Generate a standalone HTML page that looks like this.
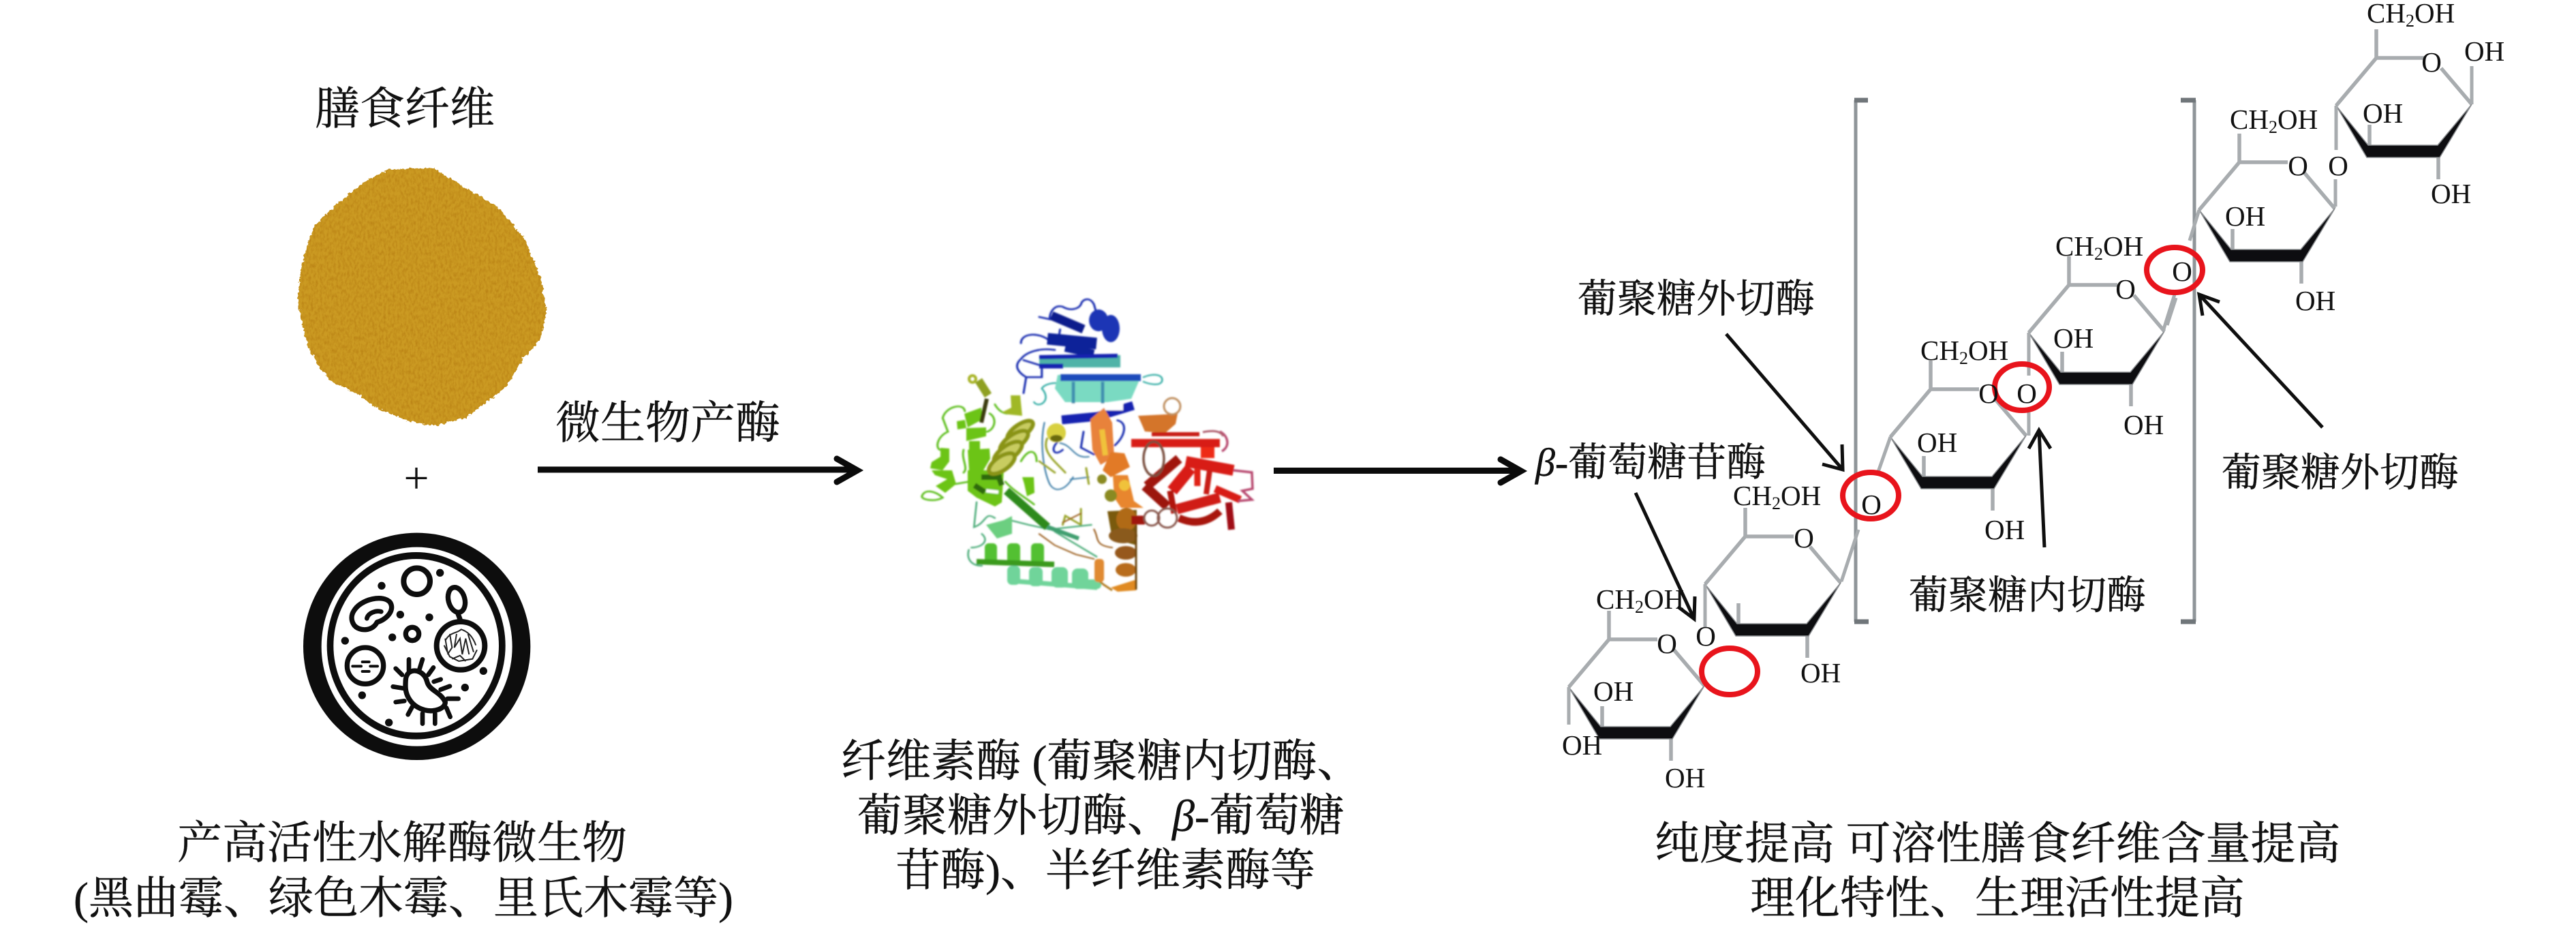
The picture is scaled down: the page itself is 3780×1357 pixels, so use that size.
<!DOCTYPE html>
<html lang="zh">
<head>
<meta charset="utf-8">
<title>膳食纤维酶解示意图</title>
<style>
html,body{margin:0;padding:0;background:#fff;width:3780px;height:1357px;overflow:hidden}
svg{display:block}
.cn{font-family:"Liberation Serif","Noto Serif CJK SC",serif;fill:#111;stroke:#111;stroke-width:.4}
.c66{font-size:66px}
.c58{font-size:58px}
.chem{font-family:"Liberation Serif",serif;font-size:41px;fill:#111}
.sub{font-size:26px}
.mid{text-anchor:middle}
</style>
</head>
<body>
<svg xmlns="http://www.w3.org/2000/svg" width="3780" height="1357" viewBox="0 0 3780 1357">
<defs>
<filter id="pw" x="-6%" y="-6%" width="112%" height="112%" color-interpolation-filters="sRGB">
  <feTurbulence type="fractalNoise" baseFrequency=".22" numOctaves="2" seed="3" result="n"/>
  <feDisplacementMap in="SourceGraphic" in2="n" scale="7" xChannelSelector="R" yChannelSelector="G" result="d"/>
  <feTurbulence type="fractalNoise" baseFrequency=".3 .16" numOctaves="3" seed="8" result="t"/>
  <feColorMatrix in="t" type="matrix" values="0 0 0 0 .70  0 0 0 0 .47  0 0 0 0 .06  1.3 0 0 0 -.5" result="tc"/>
  <feComposite in="tc" in2="d" operator="in" result="tci"/>
  <feMerge><feMergeNode in="d"/><feMergeNode in="tci"/></feMerge>
</filter>
<filter id="soft" x="-5%" y="-5%" width="110%" height="110%"><feGaussianBlur stdDeviation="1"/></filter>
<filter id="soft2" x="-5%" y="-5%" width="110%" height="110%"><feGaussianBlur stdDeviation=".8"/></filter>
<g id="ring">
  <path d="M0,0 L59,-70 L130,-70 M59,-70 L59,-112 M154,-55 L199,-2 M49,28 L49,60 M150,75 L150,108" fill="none" stroke="#a8acaf" stroke-width="5.5"/>
  <path d="M0,0 L47,58 L149,58 L199,-2 L152,76 L45,76Z" fill="#0d0d10" stroke="#8a8d90" stroke-width="1.5" stroke-linejoin="round"/>
</g>
</defs>

<rect width="3780" height="1357" fill="#fff"/>

<!-- powder -->
<path d="M437,437 L443,387 L460,333 L490,303 L533,268 L570,248 L637,247 L677,272 L730,303 L770,350 L793,407 L802,457 L793,497 L767,527 L740,570 L710,593 L683,613 L637,625 L597,617 L550,597 L523,577 L487,560 L467,537 L453,510 L443,473Z" fill="#cb9a22" filter="url(#pw)"/>

<!-- plus -->
<text x="611" y="723" class="chem mid" style="font-size:66px">+</text>

<!-- petri dish -->
<g transform="translate(430,770) scale(.33333)" filter="url(#soft2)">
  <circle cx="545" cy="535" r="500" fill="#0b0b0b"/>
  <ellipse cx="545" cy="536" rx="420" ry="438" fill="#fff"/>
  <ellipse cx="542" cy="532" rx="393" ry="412" fill="#0b0b0b"/>
  <ellipse cx="542" cy="532" rx="364" ry="382" fill="#fff"/>
  <g fill="#0b0b0b">
    <circle cx="647" cy="211" r="17"/><circle cx="390" cy="268" r="17"/><circle cx="472" cy="395" r="17"/><circle cx="600" cy="407" r="17"/><circle cx="437" cy="495" r="17"/><circle cx="229" cy="510" r="17"/><circle cx="838" cy="643" r="17"/><circle cx="757" cy="716" r="17"/><circle cx="304" cy="750" r="17"/><circle cx="422" cy="870" r="17"/>
  </g>
  <g fill="none" stroke="#0b0b0b" stroke-width="22" stroke-linecap="round" stroke-linejoin="round">
    <circle cx="545" cy="248" r="58" stroke-width="24"/>
    <circle cx="525" cy="480" r="29"/>
    <path d="M268,378 C300,325 400,305 428,342 C450,380 405,420 370,428 C350,470 290,470 268,440 C255,420 255,398 268,378Z"/>
    <path d="M325,412 C330,388 365,375 388,382" stroke-width="20"/>
    <circle cx="318" cy="620" r="80"/>
    <path d="M305,603 H335 M262,622 H300 M340,622 H372 M305,645 H335" stroke-width="12"/>
    <ellipse cx="720" cy="330" rx="36" ry="56" transform="rotate(-15 720 330)"/>
    <path d="M725,388 L735,415"/>
    <circle cx="738" cy="532" r="106" stroke-width="24"/>
    <path d="M510,650 C540,630 580,650 590,690 C600,730 650,735 670,780 C670,810 620,825 580,815 C520,800 495,750 495,710 C495,680 495,665 510,650Z"/>
    <path d="M510,640 L510,592 M555,640 L570,592 M595,660 L618,628 M620,690 L650,680 M650,725 L690,710 M680,765 L728,765 M675,805 L692,845 M625,830 L625,875 M570,830 L570,875 M525,800 L506,835 M490,775 L452,780 M490,720 L440,712 M480,660 L452,632" stroke-width="20"/>
  </g>
  <g fill="none" stroke="#222" stroke-width="6">
    <path d="M670,510 C690,470 720,480 740,460 C770,470 790,490 805,530 M665,530 L690,580 L730,600 L790,590 L810,550 M690,480 L700,540 L680,570 M720,480 L710,540 L735,500 L745,570 L760,500 L775,570 M770,480 L795,560 M700,590 L735,575 L760,600 M670,500 L680,560"/>
  </g>
</g>

<!-- arrow 1 -->
<path d="M789,689 H1252" stroke="#0b0b0b" stroke-width="9" fill="none"/>
<path d="M1228,673 L1258,690 L1228,707" stroke="#0b0b0b" stroke-width="9" fill="none" stroke-linecap="round"/>
<!-- arrow 2 -->
<path d="M1869,690.5 H2226" stroke="#0b0b0b" stroke-width="9" fill="none"/>
<path d="M2202,674 L2232,691 L2202,708" stroke="#0b0b0b" stroke-width="9" fill="none" stroke-linecap="round"/>

<!-- protein -->
<g filter="url(#soft)">
  <!-- thin loops from coarse coordinates -->
  <g transform="translate(1280,400) scale(.3827,.3333)" fill="none" stroke-linecap="round">
    <g stroke="#1a2fb0" stroke-width="8">
      <path d="M640,195 L680,205 C680,170 700,140 730,150 C760,170 790,160 800,140 C805,115 835,105 850,140 L860,180"/>
      <path d="M720,250 L715,285 M580,530 L590,460 C560,440 540,410 570,380 C590,350 640,330 700,340 M570,310 C570,265 640,260 680,300 M590,460 L650,460 L650,410 L580,385"/>
      <path d="M940,650 C980,660 970,720 930,760 M810,700 L800,770 L850,800 M710,745 C680,780 700,810 730,780"/>
    </g>
    <path stroke="#3bb0a8" stroke-width="7" d="M620,570 C640,600 690,560 650,510 C660,490 700,480 720,490 M1040,460 C1080,440 1120,450 1110,480 C1100,500 1060,490 1040,480"/>
    <path stroke="#3f7fa8" stroke-width="6" d="M660,660 C640,760 660,880 680,930 C700,970 740,960 770,900 M720,750 C770,760 770,820 830,810 M760,910 L830,900"/>
    <path stroke="#9aa52a" stroke-width="8" d="M640,830 L700,880 M670,730 C650,790 700,830 740,880 M820,860 L830,930 M800,1040 L800,1110 L740,1070 L730,1110"/>
    <path stroke="#60c020" stroke-width="8" d="M270,640 C280,590 350,570 355,610 M270,640 L290,700 C250,720 240,770 260,780 M450,620 C480,640 470,690 440,700 M190,985 C200,950 240,960 270,990 C240,1010 190,1000 190,985 M350,780 C340,820 370,860 350,880 M320,930 L370,920 M510,920 C540,960 600,1000 620,1020 M570,830 C600,770 630,780 630,830 M470,580 C490,620 520,630 550,610"/>
    <path stroke="#4fae7c" stroke-width="7" d="M400,1010 L390,1120 C440,1100 430,1050 470,1080 M370,1220 C360,1260 380,1290 420,1290 M420,1150 C450,1180 420,1210 380,1210 M530,1090 L600,1110 L680,1130 L840,1110 M700,1140 L860,1250"/>
    <path stroke="#9c6020" stroke-width="6" d="M730,1100 L800,1060 M850,1130 C870,1170 850,1200 920,1210 M640,1150 L700,1200 L780,1240 L850,1260"/>
  </g>

  <!-- blue -->
  <path d="M1543,463 L1590,483" stroke="#0c1c8c" stroke-width="13" fill="none"/>
  <ellipse cx="1612" cy="470" rx="14" ry="16" fill="#1b35b5"/>
  <ellipse cx="1630" cy="482" rx="13" ry="20" fill="#1b35b5"/>
  <path d="M1537,497 L1609,504" stroke="#0f2199" stroke-width="17" fill="none"/>
  <path d="M1563,510 L1605,519" stroke="#0f2199" stroke-width="12" fill="none"/>
  <path d="M1525,530 L1644,530" stroke="#4fb3a8" stroke-width="18" fill="none"/>
  <path d="M1525,524 L1640,522" stroke="#1324b0" stroke-width="6" fill="none"/>
  <path d="M1525,537 L1560,537" stroke="#1324b0" stroke-width="7" fill="none"/>
  <polygon points="1552,550 1674,553 1660,585 1625,590 1563,590 1548,570" fill="#7adac2"/>
  <path d="M1556,554 L1674,554" stroke="#1c4bbb" stroke-width="10" fill="none"/>
  <path d="M1575,560 V592 M1618,560 V592" stroke="#3f8fb0" stroke-width="5" fill="none"/>
  <path d="M1558,616 L1610,611 L1663,595" stroke="#1324b0" stroke-width="13" fill="none"/>
  <rect x="1548" y="592" width="100" height="10" fill="#fff"/>
  <!-- green -->
  <g fill="#6cc414">
    <polygon points="1415,607 1440,598 1442,615 1420,627"/>
    <polygon points="1404,618 1416,616 1418,628 1405,630"/>
    <polygon points="1418,628 1447,627 1447,640 1418,647"/>
    <polygon points="1420,660 1452,658 1453,673 1443,690 1422,690"/>
    <polygon points="1380,657 1393,658 1393,677 1383,690 1365,687 1367,678 1380,670"/>
    <polygon points="1367,690 1397,690 1403,710 1387,723 1373,713 1390,703 1372,697"/>
    <polygon points="1420,690 1473,690 1470,737 1460,743 1433,730 1420,720"/>
    <polygon points="1500,700 1517,700 1518,723 1507,728 1503,710"/>
    <rect x="1422" y="647" width="16" height="14"/>
  </g>
  <path d="M1440,700 L1470,700 M1430,712 L1445,722 M1462,690 L1470,712" stroke="#2e6a08" stroke-width="8" fill="none"/>
  <path d="M1447,720 L1465,722" stroke="#fff" stroke-width="5" fill="none"/>
  <path d="M1477,720 L1537,773" stroke="#2f8a1c" stroke-width="12" fill="none"/>
  <path d="M1537,773 L1583,790" stroke="#3f9f70" stroke-width="6" fill="none"/>
  <polygon points="1447,770 1473,763 1485,757 1485,783 1463,790" fill="#6ccf80"/>
  <!-- lower helices -->
  <g fill="#52c030">
    <rect x="1445" y="797" width="18" height="30" rx="6"/>
    <rect x="1478" y="797" width="19" height="30" rx="6"/>
    <rect x="1513" y="797" width="19" height="30" rx="6"/>
  </g>
  <path d="M1433,824 L1547,828" stroke="#3a9a1c" stroke-width="8" fill="none"/>
  <g fill="#6fd49a">
    <rect x="1478" y="830" width="19" height="28" rx="7"/>
    <rect x="1510" y="832" width="20" height="28" rx="7"/>
    <rect x="1543" y="832" width="24" height="30" rx="8"/>
    <rect x="1573" y="834" width="24" height="30" rx="8"/>
    <rect x="1590" y="850" width="26" height="14" rx="6"/>
  </g>
  <path d="M1482,852 L1610,862" stroke="#6fd49a" stroke-width="7" fill="none"/>
  <!-- olive -->
  <circle cx="1427" cy="556" r="5" fill="none" stroke="#a8b428" stroke-width="4"/>
  <path d="M1436,558 L1450,580" stroke="#8fa020" stroke-width="12" fill="none"/>
  <path d="M1448,585 L1440,620" stroke="#3a3a08" stroke-width="6" fill="none"/>
  <polygon points="1483,580 1497,580 1500,610 1480,608 1470,605 1484,598" fill="#a0b828"/>
  <g fill="#c8cc60" stroke="#8a9418" stroke-width="6">
    <ellipse cx="1497" cy="632" rx="22" ry="9" transform="rotate(-35 1497 632)"/>
    <ellipse cx="1488" cy="648" rx="24" ry="10" transform="rotate(-35 1488 648)"/>
    <ellipse cx="1479" cy="664" rx="24" ry="10" transform="rotate(-35 1479 664)"/>
    <ellipse cx="1470" cy="680" rx="22" ry="10" transform="rotate(-35 1470 680)"/>
  </g>
  <circle cx="1550" cy="635" r="14" fill="#d8d040"/>
  <ellipse cx="1550" cy="643" rx="9" ry="5" fill="#6a6a10"/>
  <!-- orange -->
  <polygon points="1600,615 1620,598 1632,620 1635,670 1615,682 1603,660" fill="#e8823a"/>
  <path d="M1617,630 L1622,668" stroke="#f0c23a" stroke-width="8" fill="none"/>
  <polygon points="1630,663 1650,665 1658,685 1630,700 1618,690" fill="#e27a28"/>
  <polygon points="1633,697 1655,697 1664,735 1678,745 1645,745 1635,730" fill="#e8862e"/>
  <circle cx="1650" cy="712" r="8" fill="#f0c23a"/>
  <circle cx="1617" cy="703" r="7" fill="#8a8a20"/>
  <circle cx="1630" cy="727" r="9" fill="#8a8a20"/>
  <polygon points="1670,610 1728,607 1725,622 1710,635 1680,633" fill="#d4742a"/>
  <circle cx="1720" cy="596" r="12" fill="none" stroke="#c09060" stroke-width="3"/>
  <!-- brown -->
  <polygon points="1625,750 1668,748 1668,800 1632,790" fill="#7a5a10"/>
  <ellipse cx="1653" cy="762" rx="15" ry="17" fill="#b06a15"/>
  <ellipse cx="1648" cy="786" rx="21" ry="11" fill="#8a5a1c"/>
  <ellipse cx="1652" cy="811" rx="16" ry="10" fill="#96581a"/>
  <ellipse cx="1652" cy="836" rx="15" ry="10" fill="#b86c1a"/>
  <polygon points="1630,862 1668,850 1667,866 1640,868" fill="#e08a20"/>
  <path d="M1667,770 V865" stroke="#6a4410" stroke-width="3" fill="none"/>
  <path d="M1610,850 L1620,858 L1632,866" stroke="#b07a20" stroke-width="3" fill="none"/>
  <rect x="1606" y="820" width="14" height="34" rx="5" fill="#e08a30"/>
  <!-- red -->
  <g fill="none">
    <path d="M1660,650 L1790,650" stroke="#d81c14" stroke-width="12"/>
    <path d="M1690,637 L1760,637" stroke="#c81c18" stroke-width="6"/>
    <path d="M1740,677 L1810,690" stroke="#d81c14" stroke-width="16"/>
    <path d="M1762,664 L1782,664" stroke="#ee2c14" stroke-width="16"/>
    <path d="M1683,713 L1730,673" stroke="#a01510" stroke-width="14"/>
    <path d="M1720,720 L1747,687" stroke="#d81c14" stroke-width="17"/>
    <path d="M1680,713 L1713,743" stroke="#9c1210" stroke-width="14"/>
    <path d="M1717,720 L1723,753" stroke="#b01410" stroke-width="9"/>
    <path d="M1727,747 L1790,730" stroke="#d01a12" stroke-width="15"/>
    <path d="M1730,760 Q1763,775 1790,750" stroke="#a81410" stroke-width="11"/>
    <path d="M1783,717 L1820,733" stroke="#d81c14" stroke-width="11"/>
    <path d="M1757,687 V713" stroke="#e02418" stroke-width="9"/>
    <path d="M1775,690 L1770,725" stroke="#c81c14" stroke-width="8"/>
    <path d="M1803,737 L1807,777" stroke="#a01018" stroke-width="10"/>
    <path d="M1660,763 H1680" stroke="#a01510" stroke-width="13"/>
    <path d="M1790,633 C1803,640 1805,655 1793,662" stroke="#b84a70" stroke-width="3.5"/>
    <path d="M1810,690 L1837,693 L1838,717 L1823,720 L1837,733 L1817,735" stroke="#b84a70" stroke-width="3.5"/>
    <path d="M1765,634 C1775,632 1790,630 1795,640" stroke="#b06070" stroke-width="3"/>
    <circle cx="1690" cy="760" r="11" stroke="#8a5a50" stroke-width="3"/>
    <circle cx="1713" cy="760" r="14" stroke="#8a5a50" stroke-width="3"/>
    <ellipse cx="1693" cy="673" rx="15" ry="25" stroke="#7a5040" stroke-width="3.5"/>
  </g>
</g>

<!-- brackets -->
<g fill="none" stroke="#8f9599" stroke-width="5">
  <path d="M2723,147 V912"/>
  <path d="M3220,147 V912"/>
</g>
<g fill="none" stroke="#70767a" stroke-width="7">
  <path d="M2721,147 H2741 M2721,912 H2742"/>
  <path d="M3200,147 H3222 M3200,912 H3222"/>
</g>

<!-- sugar rings -->
<use href="#ring" x="2302" y="1008"/>
<use href="#ring" x="2502" y="857"/>
<use href="#ring" x="2774" y="641"/>
<use href="#ring" x="2977" y="488"/>
<use href="#ring" x="3227" y="308"/>
<use href="#ring" x="3428" y="155"/>

<!-- links -->
<g fill="none" stroke="#a8acaf" stroke-width="5">
  <path d="M2302,1008 V1063"/>
  <path d="M2502,857 V920"/>
  <path d="M2702,853 L2727,777"/>
  <path d="M2774,641 L2755,695"/>
  <path d="M2977,488 V551 M2977,639 V605"/>
  <path d="M3174,486 L3191,432"/>
  <path d="M3227,308 L3213,353"/>
  <path d="M3193,437 L3180,477"/>
  <path d="M3428,155 V220"/>
  <path d="M3427,263 V303"/>
  <path d="M3627,153 V97"/>
</g>

<!-- red ellipses -->
<g fill="none" stroke="#e8141c" stroke-width="8">
  <ellipse cx="2538" cy="985" rx="41" ry="34"/>
  <ellipse cx="2745" cy="727" rx="41" ry="34"/>
  <ellipse cx="2967" cy="568" rx="40" ry="34"/>
  <ellipse cx="3191" cy="396" rx="41" ry="33"/>
</g>

<!-- black arrows -->
<g fill="none" stroke="#0f0f0f" stroke-width="5">
  <path d="M2533,490 L2704,689 M2703,652 L2704,689 L2674,681"/>
  <path d="M2400,723 L2486,908 M2487,875 L2486,908 L2462,890"/>
  <path d="M3000,803 L2992,631 M2977,658 L2992,631 L3009,658"/>
  <path d="M3408,627 L3227,432 M3257,443 L3227,432 L3232,463"/>
</g>

<!-- chemistry labels -->
<g class="chem">
  <text x="3473" y="33">CH<tspan class="sub" dy="6">2</tspan><tspan dy="-6">OH</tspan></text>
  <text x="3616" y="89">OH</text>
  <text x="3568" y="105" class="mid">O</text>
  <text x="3467" y="180">OH</text>
  <text x="3567" y="298">OH</text>
  <text x="3431" y="257" class="mid">O</text>

  <text x="3272" y="189">CH<tspan class="sub" dy="6">2</tspan><tspan dy="-6">OH</tspan></text>
  <text x="3372" y="257" class="mid">O</text>
  <text x="3265" y="331">OH</text>
  <text x="3368" y="455">OH</text>
  <text x="3202" y="412" class="mid">O</text>

  <text x="3016" y="375">CH<tspan class="sub" dy="6">2</tspan><tspan dy="-6">OH</tspan></text>
  <text x="3119" y="438" class="mid">O</text>
  <text x="3013" y="510">OH</text>
  <text x="3116" y="637">OH</text>
  <text x="2974" y="591" class="mid">O</text>

  <text x="2818" y="528">CH<tspan class="sub" dy="6">2</tspan><tspan dy="-6">OH</tspan></text>
  <text x="2918" y="591" class="mid">O</text>
  <text x="2813" y="663">OH</text>
  <text x="2912" y="791">OH</text>
  <text x="2746" y="754" class="mid">O</text>

  <text x="2543" y="741">CH<tspan class="sub" dy="6">2</tspan><tspan dy="-6">OH</tspan></text>
  <text x="2647" y="803" class="mid">O</text>
  <text x="2642" y="1001">OH</text>
  <text x="2503" y="947" class="mid">O</text>

  <text x="2342" y="893">CH<tspan class="sub" dy="6">2</tspan><tspan dy="-6">OH</tspan></text>
  <text x="2446" y="958" class="mid">O</text>
  <text x="2338" y="1028">OH</text>
  <text x="2292" y="1107">OH</text>
  <text x="2443" y="1155">OH</text>
</g>

<!-- Chinese labels -->
<text x="462" y="182" class="cn c66">膳食纤维</text>
<text x="815" y="643" class="cn c66">微生物产酶</text>

<text x="260" y="1259" class="cn c66">产高活性水解酶微生物</text>
<text x="108" y="1340" class="cn c66">(黑曲霉、绿色木霉、里氏木霉等)</text>

<text x="1234" y="1139" class="cn c66" xml:space="preserve">纤维素酶 (葡聚糖内切酶、</text>
<text x="1258" y="1219" class="cn c66">葡聚糖外切酶、<tspan font-style="italic">β</tspan>-葡萄糖</text>
<text x="1314" y="1299" class="cn c66">苷酶)、半纤维素酶等</text>

<text x="2428" y="1260" class="cn c66" xml:space="preserve">纯度提高 可溶性膳食纤维含量提高</text>
<text x="2568" y="1340" class="cn c66">理化特性、生理活性提高</text>

<text x="2315" y="458" class="cn c58">葡聚糖外切酶</text>
<text x="2253" y="698" class="cn c58"><tspan font-style="italic">β</tspan>-葡萄糖苷酶</text>
<text x="3260" y="713" class="cn c58">葡聚糖外切酶</text>
<text x="2801" y="893" class="cn c58">葡聚糖内切酶</text>
</svg>
</body>
</html>
